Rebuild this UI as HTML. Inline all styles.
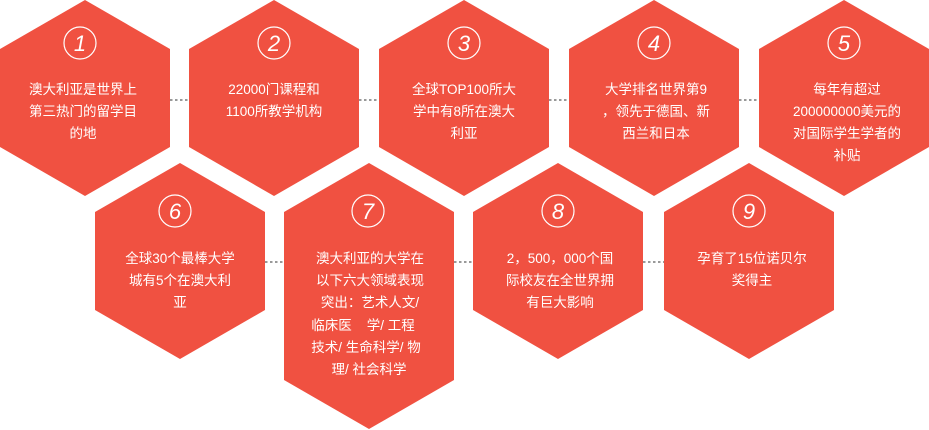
<!DOCTYPE html>
<html><head><meta charset="utf-8"><style>
html,body{margin:0;padding:0;background:#fff;}
svg{display:block;}
text{font-family:"Liberation Sans","Noto Sans CJK SC",sans-serif;fill:#fff;}
.t{font-size:13.5px;text-anchor:middle;}
.n{font-size:22px;text-anchor:middle;font-style:italic;}
</style></head><body>
<svg width="929" height="430" viewBox="0 0 929 430">
<g stroke="#999" stroke-width="2" stroke-dasharray="2.5,2.5">
<line x1="170" y1="100" x2="189" y2="100"/>
<line x1="359" y1="100" x2="379" y2="100"/>
<line x1="549" y1="100" x2="569" y2="100"/>
<line x1="739" y1="100" x2="759" y2="100"/>
<line x1="265" y1="262" x2="284" y2="262"/>
<line x1="454" y1="262" x2="473" y2="262"/>
<line x1="643" y1="262" x2="664" y2="262"/>
</g>
<g fill="#f05141">
<polygon points="85,0 170,49 170,147 85,196 0,147 0,49"/>
<polygon points="274,0 359,49 359,147 274,196 189,147 189,49"/>
<polygon points="464,0 549,49 549,147 464,196 379,147 379,49"/>
<polygon points="654,0 739,49 739,147 654,196 569,147 569,49"/>
<polygon points="844,0 929,49 929,147 844,196 759,147 759,49"/>
<polygon points="180,163 265,212 265,310 180,359 95,310 95,212"/>
<polygon points="369,163 454,212 454,380 369,429 284,380 284,212"/>
<polygon points="558,163 643,212 643,310 558,359 473,310 473,212"/>
<polygon points="749,163 834,212 834,310 749,359 664,310 664,212"/>
</g>
<g fill="none" stroke="#fff" stroke-width="1.2">
<circle cx="80" cy="43" r="16"/><circle cx="274" cy="43" r="16"/><circle cx="464" cy="43" r="16"/><circle cx="654" cy="43" r="16"/><circle cx="844" cy="43" r="16"/>
<circle cx="175" cy="211" r="16"/><circle cx="368" cy="211" r="16"/><circle cx="558" cy="211" r="16"/><circle cx="749" cy="211" r="16"/>
</g>
<text class="n" x="80" y="51">1</text><text class="n" x="274" y="51">2</text><text class="n" x="464" y="51">3</text><text class="n" x="654" y="51">4</text><text class="n" x="844" y="51">5</text>
<text class="n" x="175" y="219">6</text><text class="n" x="368" y="219">7</text><text class="n" x="558" y="219">8</text><text class="n" x="749" y="219">9</text>
<text class="t" x="83" y="94">澳大利亚是世界上</text><text class="t" x="83" y="116">第三热门的留学目</text><text class="t" x="83" y="138">的地</text>
<text class="t" x="274" y="94">22000门课程和</text><text class="t" x="274" y="116">1100所教学机构</text>
<text class="t" x="464" y="94">全球TOP100所大</text><text class="t" x="464" y="116">学中有8所在澳大</text><text class="t" x="464" y="138">利亚</text>
<text class="t" x="656" y="94">大学排名世界第9</text><text class="t" x="656" y="116">，领先于德国、新</text><text class="t" x="656" y="138">西兰和日本</text>
<text class="t" x="847" y="94">每年有超过</text><text class="t" x="847" y="116">200000000美元的</text><text class="t" x="847" y="138">对国际学生学者的</text><text class="t" x="847" y="160">补贴</text>
<text class="t" x="180" y="263">全球30个最棒大学</text><text class="t" x="180" y="285">城有5个在澳大利</text><text class="t" x="180" y="307">亚</text>
<text class="t" x="370" y="263">澳大利亚的大学在</text><text class="t" x="370" y="285">以下六大领域表现</text><text class="t" x="370" y="307">突出：艺术人文/</text><text class="t" x="363" y="330" xml:space="preserve">临床医    学/ 工程</text><text class="t" x="366" y="352">技术/ 生命科学/ 物</text><text class="t" x="369" y="374">理/ 社会科学</text>
<text class="t" x="560" y="263">2，500，000个国</text><text class="t" x="560" y="285">际校友在全世界拥</text><text class="t" x="560" y="307">有巨大影响</text>
<text class="t" x="752" y="263">孕育了15位诺贝尔</text><text class="t" x="752" y="285">奖得主</text>
</svg>
</body></html>
